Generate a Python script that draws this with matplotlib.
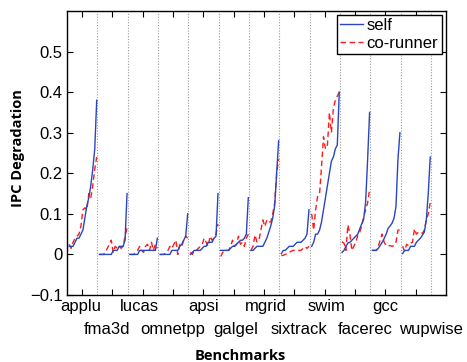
import matplotlib
matplotlib.use("Agg")
import matplotlib.pyplot as plt
import numpy as np

benchmarks = ["applu", "fma3d", "lucas", "omnetpp", "apsi", "galgel",
              "mgrid", "sixtrack", "swim", "facerec", "gcc", "wupwise"]

self_applu = [0.02, 0.02, 0.02, 0.03, 0.04, 0.04, 0.05, 0.06, 0.09, 0.12, 0.14, 0.17, 0.21, 0.26, 0.38]
self_fma3d = [0, 0, 0, 0, 0, 0, 0, 0.01, 0.01, 0.01, 0.02, 0.02, 0.02, 0.035, 0.15]
self_lucas = [0, 0, 0, 0, 0, 0.01, 0.01, 0.01, 0.01, 0.01, 0.01, 0.01, 0.01, 0.01, 0.04]
self_omnetpp = [0, 0, 0, 0, 0, 0, 0.01, 0.01, 0.01, 0.01, 0.02, 0.025, 0.035, 0.045, 0.10]
self_apsi = [0, 0.005, 0.01, 0.01, 0.01, 0.01, 0.015, 0.02, 0.02, 0.03, 0.03, 0.03, 0.04, 0.045, 0.15]
self_galgel = [0.01, 0.01, 0.01, 0.01, 0.01, 0.015, 0.02, 0.02, 0.025, 0.03, 0.035, 0.035, 0.04, 0.05, 0.14]
self_mgrid = [0.01, 0.01, 0.015, 0.02, 0.02, 0.02, 0.02, 0.03, 0.04, 0.055, 0.07, 0.09, 0.12, 0.2, 0.28]
self_sixtrack = [0.002, 0.01, 0.01, 0.015, 0.02, 0.02, 0.02, 0.025, 0.03, 0.03, 0.03, 0.035, 0.04, 0.05, 0.11]
self_swim = [0.02, 0.03, 0.05, 0.05, 0.06, 0.08, 0.11, 0.14, 0.17, 0.20, 0.23, 0.24, 0.26, 0.27, 0.40]
self_facerec = [0.005, 0.01, 0.02, 0.028, 0.03, 0.035, 0.04, 0.045, 0.05, 0.063, 0.075, 0.087, 0.13, 0.234, 0.35]
self_gcc = [0.01, 0.01, 0.01, 0.015, 0.022, 0.03, 0.039, 0.05, 0.064, 0.07, 0.077, 0.089, 0.118, 0.234, 0.30]
self_wupwise = [0.002, 0.01, 0.01, 0.01, 0.02, 0.02, 0.02, 0.03, 0.035, 0.04, 0.047, 0.055, 0.085, 0.15, 0.24]

co_applu = [0.025, 0.015, 0.03, 0.04, 0.045, 0.05, 0.07, 0.11, 0.115, 0.11, 0.15, 0.14, 0.17, 0.21, 0.24]
co_fma3d = [0, 0, 0, 0.005, 0.015, 0.025, 0.035, 0.005, 0.02, 0.015, 0.02, 0.015, 0.02, 0.045, 0.065]
co_lucas = [0, 0, 0, 0.005, 0.01, 0.02, 0.01, 0.005, 0.02, 0.025, 0.01, 0.03, 0.01, 0.025, 0.015]
co_omnetpp = [0, 0, 0, 0.005, 0.01, 0.02, 0.015, 0.025, 0.035, 0.0, 0.025, 0.02, 0.035, 0.045, 0.04]
co_apsi = [0.005, 0, 0.01, 0.01, 0.015, 0.02, 0.025, 0.04, 0.03, 0.02, 0.045, 0.035, 0.04, 0.05, 0.075]
co_galgel = [-0.005, 0.005, 0.01, 0.01, 0.01, 0.02, 0.035, 0.02, 0.025, 0.045, 0.025, 0.03, 0.02, 0.04, 0.05]
co_mgrid = [0.01, 0.02, 0.048, 0.031, 0.035, 0.06, 0.085, 0.069, 0.085, 0.08, 0.08, 0.10, 0.127, 0.2, 0.235]
co_sixtrack = [-0.003, -0.002, 0.0, 0.002, 0.005, 0.008, 0.01, 0.01, 0.01, 0.01, 0.01, 0.015, 0.019, 0.015, 0.02]
co_swim = [0.10, 0.06, 0.11, 0.143, 0.15, 0.217, 0.29, 0.26, 0.27, 0.35, 0.30, 0.36, 0.38, 0.39, 0.40]
co_facerec = [0.031, 0.028, 0.01, 0.073, 0.05, 0.01, 0.02, 0.03, 0.047, 0.055, 0.07, 0.093, 0.11, 0.127, 0.16]
co_gcc = [0.01, 0.01, 0.01, 0.02, 0.035, 0.05, 0.03, 0.022, 0.02, 0.022, 0.02, 0.022, 0.03, 0.06, 0.06]
co_wupwise = [0.02, 0.008, 0.025, 0.022, 0.028, 0.03, 0.063, 0.05, 0.055, 0.055, 0.052, 0.06, 0.085, 0.1, 0.128]

self_vals = [self_applu, self_fma3d, self_lucas, self_omnetpp, self_apsi, self_galgel,
             self_mgrid, self_sixtrack, self_swim, self_facerec, self_gcc, self_wupwise]
co_vals = [co_applu, co_fma3d, co_lucas, co_omnetpp, co_apsi, co_galgel,
           co_mgrid, co_sixtrack, co_swim, co_facerec, co_gcc, co_wupwise]

yticks = [-0.1, 0, 0.1, 0.2, 0.3, 0.4, 0.5]
ytick_labels = ["\u22120.1", "0", "0.1", "0.2", "0.3", "0.4", "0.5"]

row1_x = [0.46, 2.4, 4.52, 6.55, 8.56, 10.5]
row2_x = [1.31, 3.47, 5.57, 7.66, 9.83, 12.01]

W, H = 467, 362
fig = plt.figure(figsize=(W / 100, H / 100), dpi=100)
L, R, T, B = 67, 446, 11, 295
ax = fig.add_axes([L / W, 1 - B / H, (R - L) / W, (B - T) / H])

tick_font = "Liberation Sans"
blue = "#2a45c0"
red = "#ff1a1a"

for i, (s, c) in enumerate(zip(self_vals, co_vals)):
    n = len(s)
    x = i + 0.07 + np.arange(n) * (0.91 / (n - 1))
    ax.plot(x, s, color=blue, lw=1.0, label="self" if i == 0 else None, zorder=3)
    ax.plot(x, c, color=red, lw=1.0, ls=(0, (4, 2.5)), label="co-runner" if i == 0 else None, zorder=2)

for b in range(1, 13):
    ax.axvline(b, color="#9a9a9a", lw=0.8, ls=(0, (1, 1.5)), zorder=1)

ax.set_xlim(0, 12.5)
ax.set_ylim(-0.1, 0.6)
ax.set_yticks(yticks)
ax.set_yticklabels(ytick_labels, fontfamily=tick_font, fontsize=12)
ax.set_xticks(np.arange(12) + 0.5)
ax.set_xticklabels([])
ax.tick_params(direction="in", top=True, right=True, length=4, width=0.8, pad=3)
for sp in ax.spines.values():
    sp.set_linewidth(1.0)

trans = ax.get_xaxis_transform()
for k in range(6):
    ax.text(row1_x[k], -0.041, benchmarks[2 * k], transform=trans, ha="center", va="center",
            fontfamily=tick_font, fontsize=12, clip_on=False)
    ax.text(row2_x[k], -0.123, benchmarks[2 * k + 1], transform=trans, ha="center", va="center",
            fontfamily=tick_font, fontsize=12, clip_on=False)

fig.text(240.5 / W, 1 - 356 / H, "Benchmarks", ha="center", va="center",
         fontfamily="Open Sans", fontweight="bold", fontsize=10.5)
fig.text(18 / W, 1 - 148 / H, "IPC Degradation", ha="center", va="center", rotation=90,
         fontfamily="Open Sans", fontweight="bold", fontsize=10.5)

leg = ax.legend(loc="upper right", bbox_to_anchor=((441.7 - L) / (R - L), (B - 14.7) / (B - T)),
                prop={"family": tick_font, "size": 12}, fancybox=False, framealpha=1,
                edgecolor="black", borderpad=0.2, labelspacing=0.15, handlelength=1.4,
                handletextpad=0.2, borderaxespad=0)
leg.get_frame().set_linewidth(1.0)

fig.savefig("out.png", dpi=100)
